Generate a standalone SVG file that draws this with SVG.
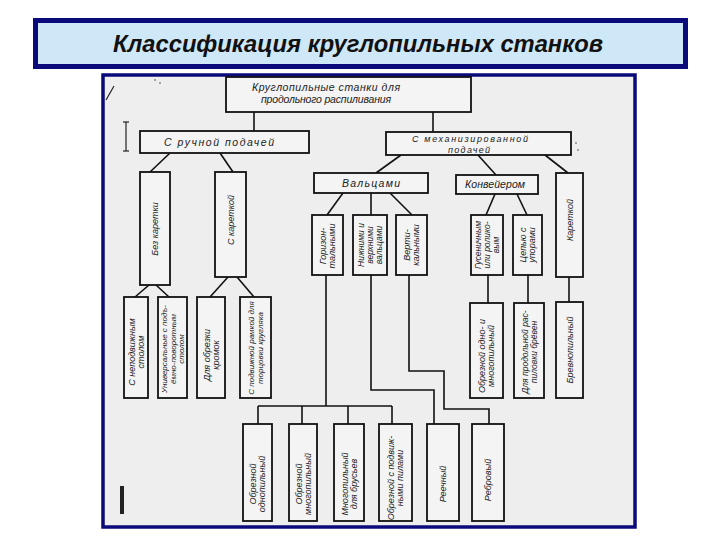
<svg xmlns="http://www.w3.org/2000/svg" width="720" height="540" viewBox="0 0 720 540">
<style>
.box{fill:#f4f4f4;stroke:#111;stroke-width:1.8}
.ln{stroke:#111;stroke-width:1.6;fill:none}
.t{font-family:"Liberation Sans",Arial,sans-serif;font-style:italic;font-size:9px;fill:#222}
.h{font-family:"Liberation Sans",Arial,sans-serif;font-style:italic;font-size:10.5px;fill:#222}
.art{stroke:#222;stroke-width:1.2;fill:none}
</style>
<rect width="720" height="540" fill="#ffffff"/>
<g id="title">
<rect x="35.5" y="20.5" width="650" height="46" fill="#cfe8f8" stroke="#0a0a7a" stroke-width="5"/>
<text x="113" y="52" textLength="490" lengthAdjust="spacingAndGlyphs" font-family="Liberation Sans, Arial, sans-serif" font-weight="bold" font-style="italic" font-size="23" fill="#111">Классификация круглопильных станков</text>
</g>
<rect id="frame" x="103" y="75" width="532" height="452" fill="#eeeeee" stroke="#0a0a7a" stroke-width="3.5"/>
<g id="artifacts">
<line class="art" x1="106" y1="100" x2="114" y2="86"/>
<line class="art" x1="126" y1="122" x2="126" y2="151"/>
<line class="art" x1="123" y1="122" x2="129" y2="122"/>
<line class="art" x1="123" y1="151" x2="129" y2="151"/>
<rect x="120" y="486" width="4" height="28" fill="#222"/>
<circle cx="155" cy="80" r="0.8" fill="#444"/>
<circle cx="160" cy="83" r="0.8" fill="#444"/>
<circle cx="576" cy="143" r="0.8" fill="#444"/>
<circle cx="578" cy="150" r="0.8" fill="#444"/>
</g>
<g id="connectors">
<line class="ln" x1="254" y1="112" x2="254" y2="131"/>
<line class="ln" x1="433" y1="112" x2="433" y2="132"/>
<line class="ln" x1="170" y1="153" x2="150" y2="172"/>
<line class="ln" x1="220" y1="153" x2="233" y2="172"/>
<line class="ln" x1="149" y1="285" x2="135" y2="297"/>
<line class="ln" x1="156" y1="285" x2="169" y2="297"/>
<line class="ln" x1="228" y1="277" x2="210" y2="297"/>
<line class="ln" x1="237" y1="277" x2="254" y2="297"/>
<line class="ln" x1="401" y1="155" x2="376" y2="173"/>
<line class="ln" x1="478" y1="155" x2="496" y2="175"/>
<line class="ln" x1="545" y1="155" x2="568" y2="173"/>
<line class="ln" x1="343" y1="193" x2="327" y2="215"/>
<line class="ln" x1="371" y1="193" x2="371" y2="215"/>
<line class="ln" x1="390" y1="193" x2="412" y2="215"/>
<line class="ln" x1="495" y1="194" x2="486" y2="215"/>
<line class="ln" x1="517" y1="194" x2="527" y2="215"/>
<line class="ln" x1="488" y1="275" x2="488" y2="303"/>
<line class="ln" x1="528" y1="275" x2="528" y2="303"/>
<line class="ln" x1="569" y1="277" x2="569" y2="302"/>
<line class="ln" x1="326" y1="275" x2="326" y2="406"/>
<line class="ln" x1="258" y1="406" x2="392" y2="406"/>
<line class="ln" x1="258" y1="406" x2="258" y2="424"/>
<line class="ln" x1="302" y1="406" x2="302" y2="424"/>
<line class="ln" x1="348" y1="406" x2="348" y2="424"/>
<line class="ln" x1="392" y1="406" x2="392" y2="424"/>
<polyline class="ln" points="371,275 371,390 434,390 434,424"/>
<polyline class="ln" points="409,275 409,371 444,371 444,409 489,409 489,424"/>
</g>
<g id="n-root"><rect class="box" x="226" y="77" width="245" height="35"/>
<text class="h" text-anchor="middle"><tspan x="326" y="91" textLength="148">Круглопильные станки для</tspan><tspan x="326" y="103" textLength="130">продольного распиливания</tspan></text></g>
<g id="n-manual"><rect class="box" x="140" y="131" width="169" height="22"/>
<text class="h" x="219" y="146" text-anchor="middle" textLength="110">С ручной подачей</text></g>
<g id="n-mech"><rect class="box" x="386" y="132" width="185" height="23"/>
<text class="h" text-anchor="middle" style="font-size:9px"><tspan x="470" y="142" textLength="116">С механизированной</tspan><tspan x="469" y="152.5" textLength="42">подачей</tspan></text></g>
<g id="n-bk"><rect class="box" x="140" y="172" width="30" height="113"/>
<text class="t" transform="translate(155,229) rotate(-90)" text-anchor="middle" y="3">Без каретки</text></g>
<g id="n-sk"><rect class="box" x="215" y="172" width="31" height="105"/>
<text class="t" transform="translate(230.5,220) rotate(-90)" text-anchor="middle" y="3">С кареткой</text></g>
<g id="n-n1"><rect class="box" x="124" y="297" width="24" height="101"/>
<text class="t" transform="translate(136,352) rotate(-90)" text-anchor="middle"><tspan x="0" y="-1.5">С неподвижным</tspan><tspan x="0" y="7.5">столом</tspan></text></g>
<g id="n-n2"><rect class="box" x="158" y="297" width="29" height="101"/>
<text class="t" transform="translate(172.5,349) rotate(-90)" text-anchor="middle" style="font-size:8px"><tspan x="0" y="-5.5">Универсальные с подъ-</tspan><tspan x="0" y="3">ёмно-поворотным</tspan><tspan x="0" y="11.5">столом</tspan></text></g>
<g id="n-n3"><rect class="box" x="197" y="297" width="28" height="101"/>
<text class="t" transform="translate(211,355) rotate(-90)" text-anchor="middle"><tspan x="0" y="-1.5">Для обрезки</tspan><tspan x="0" y="7.5">кромок</tspan></text></g>
<g id="n-n4"><rect class="box" x="240" y="297" width="31" height="101"/>
<text class="t" transform="translate(255.5,348) rotate(-90)" text-anchor="middle" style="font-size:8px"><tspan x="0" y="-1.5">С подвижной рамкой для</tspan><tspan x="0" y="7.5">торцовки кругляка</tspan></text></g>
<g id="n-val"><rect class="box" x="314" y="173" width="114" height="20"/>
<text class="h" x="371" y="187" text-anchor="middle" textLength="58">Вальцами</text></g>
<g id="n-konv"><rect class="box" x="456" y="175" width="82" height="19"/>
<text class="h" x="495" y="188" text-anchor="middle" textLength="60">Конвейером</text></g>
<g id="n-kar"><rect class="box" x="556" y="173" width="27" height="104"/>
<text class="t" transform="translate(569.5,220) rotate(-90)" text-anchor="middle" y="3">Кареткой</text></g>
<g id="n-v1"><rect class="box" x="312" y="215" width="31" height="60"/>
<text class="t" transform="translate(327.5,246) rotate(-90)" text-anchor="middle"><tspan x="0" y="-1.5">Горизон-</tspan><tspan x="0" y="7.5">тальными</tspan></text></g>
<g id="n-v2"><rect class="box" x="353" y="215" width="34" height="60"/>
<text class="t" transform="translate(370,245) rotate(-90)" text-anchor="middle" style="font-size:8.5px"><tspan x="0" y="-6">Нижними и</tspan><tspan x="0" y="3">верхними</tspan><tspan x="0" y="12">вальцами</tspan></text></g>
<g id="n-v3"><rect class="box" x="396" y="215" width="31" height="60"/>
<text class="t" transform="translate(411.5,245) rotate(-90)" text-anchor="middle"><tspan x="0" y="-1.5">Верти-</tspan><tspan x="0" y="7.5">кальными</tspan></text></g>
<g id="n-k1"><rect class="box" x="471" y="215" width="32" height="60"/>
<text class="t" transform="translate(487,245) rotate(-90)" text-anchor="middle" style="font-size:8.5px"><tspan x="0" y="-6">Гусеничным</tspan><tspan x="0" y="3">или ролико-</tspan><tspan x="0" y="12">вым</tspan></text></g>
<g id="n-k2"><rect class="box" x="513" y="215" width="29" height="60"/>
<text class="t" transform="translate(527.5,245) rotate(-90)" text-anchor="middle"><tspan x="0" y="-1.5">Цепью с</tspan><tspan x="0" y="7.5">упорами</tspan></text></g>
<g id="n-r1"><rect class="box" x="470" y="303" width="33" height="95"/>
<text class="t" transform="translate(486.5,356) rotate(-90)" text-anchor="middle"><tspan x="0" y="-1.5">Обрезной одно- и</tspan><tspan x="0" y="7.5">многопильный</tspan></text></g>
<g id="n-r2"><rect class="box" x="514" y="303" width="30" height="95"/>
<text class="t" transform="translate(529,352) rotate(-90)" text-anchor="middle" style="font-size:8.5px"><tspan x="0" y="-1.5">Для продольной рас-</tspan><tspan x="0" y="7.5">пиловки брёвен</tspan></text></g>
<g id="n-r3"><rect class="box" x="556" y="302" width="27" height="96"/>
<text class="t" transform="translate(569.5,350) rotate(-90)" text-anchor="middle" y="3">Бревнопильный</text></g>
<g id="n-b1"><rect class="box" x="243" y="424" width="29" height="97"/>
<text class="t" transform="translate(257.5,484) rotate(-90)" text-anchor="middle"><tspan x="0" y="-1.5">Обрезной</tspan><tspan x="0" y="7.5">однопильный</tspan></text></g>
<g id="n-b2"><rect class="box" x="289" y="424" width="28" height="97"/>
<text class="t" transform="translate(303,484) rotate(-90)" text-anchor="middle"><tspan x="0" y="-1.5">Обрезной</tspan><tspan x="0" y="7.5">многопильный</tspan></text></g>
<g id="n-b3"><rect class="box" x="334" y="424" width="30" height="97"/>
<text class="t" transform="translate(349,484) rotate(-90)" text-anchor="middle"><tspan x="0" y="-1.5">Многопильный</tspan><tspan x="0" y="7.5">для брусьев</tspan></text></g>
<g id="n-b4"><rect class="box" x="379" y="424" width="33" height="97"/>
<text class="t" transform="translate(395.5,478) rotate(-90)" text-anchor="middle"><tspan x="0" y="-1.5">Обрезной с подвиж-</tspan><tspan x="0" y="7.5">ными пилами</tspan></text></g>
<g id="n-b5"><rect class="box" x="427" y="424" width="32" height="97"/>
<text class="t" transform="translate(443,484) rotate(-90)" text-anchor="middle" y="3">Реечный</text></g>
<g id="n-b6"><rect class="box" x="472" y="424" width="32" height="97"/>
<text class="t" transform="translate(488,480) rotate(-90)" text-anchor="middle" y="3">Ребровый</text></g>
</svg>
